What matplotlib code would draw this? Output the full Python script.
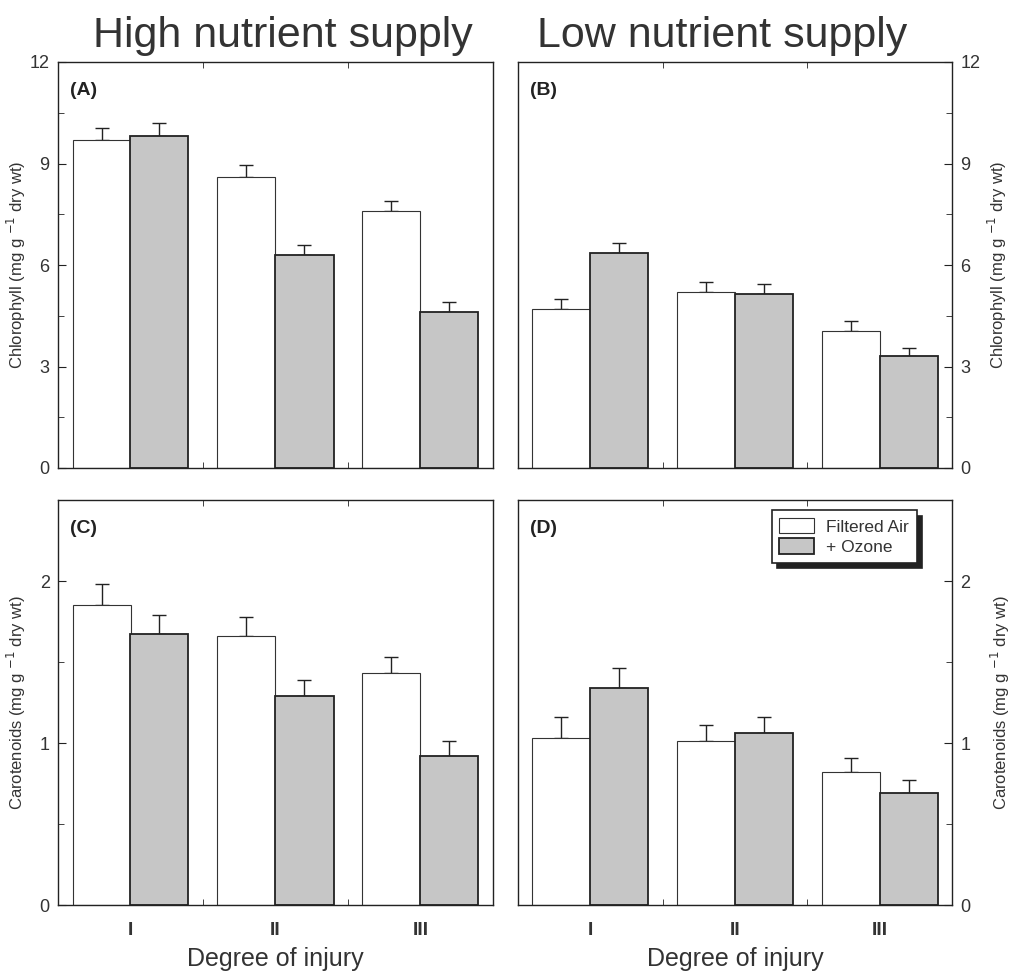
import matplotlib.pyplot as plt
import numpy as np
from matplotlib.ticker import MultipleLocator

plt.rcParams['font.family'] = ['Liberation Sans', 'DejaVu Sans']

groups = ['I', 'II', 'III']

# chlorophyll (mg g-1 dry wt)
chl_high_fa = [9.7, 8.6, 7.6]
chl_high_fa_err = [0.35, 0.35, 0.3]
chl_high_oz = [9.8, 6.3, 4.6]
chl_high_oz_err = [0.4, 0.3, 0.3]
chl_low_fa = [4.7, 5.2, 4.05]
chl_low_fa_err = [0.3, 0.3, 0.3]
chl_low_oz = [6.35, 5.15, 3.3]
chl_low_oz_err = [0.3, 0.3, 0.25]

# carotenoids (mg g-1 dry wt)
car_high_fa = [1.85, 1.66, 1.43]
car_high_fa_err = [0.13, 0.12, 0.1]
car_high_oz = [1.67, 1.29, 0.92]
car_high_oz_err = [0.12, 0.1, 0.09]
car_low_fa = [1.03, 1.01, 0.82]
car_low_fa_err = [0.13, 0.1, 0.09]
car_low_oz = [1.34, 1.06, 0.69]
car_low_oz_err = [0.12, 0.1, 0.08]

GREY = '#c6c6c6'
TXT = '#333333'
INK = '#222222'


def draw_panel(ax, fa, fa_err, oz, oz_err, ylim, major, minor, letter, right=False):
    x = np.arange(1, len(groups) + 1)
    w = 0.4
    ax.bar(x - w / 2, fa, w, color='white', edgecolor='#333333', linewidth=0.8, zorder=2)
    ax.bar(x + w / 2, oz, w, color=GREY, edgecolor=INK, linewidth=1.3, zorder=2)
    ax.errorbar(x - w / 2, fa, yerr=[np.zeros(3), fa_err], fmt='none', ecolor=INK,
                elinewidth=1, capsize=5, capthick=1, zorder=1)
    ax.errorbar(x + w / 2, oz, yerr=[np.zeros(3), oz_err], fmt='none', ecolor=INK,
                elinewidth=1, capsize=5, capthick=1, zorder=1)
    ax.set_xlim(0.5, 3.5)
    ax.set_ylim(*ylim)
    ax.yaxis.set_major_locator(MultipleLocator(major))
    ax.yaxis.set_minor_locator(MultipleLocator(minor))
    ax.set_xticks(x)
    ax.set_xticks([1.5, 2.5], minor=True)
    ax.tick_params(axis='both', which='both', direction='in', colors=INK,
                   labelcolor=TXT, labelsize=13)
    ax.tick_params(axis='y', which='major', length=6, pad=6)
    ax.tick_params(axis='y', which='minor', length=4)
    ax.tick_params(axis='x', which='major', length=0, pad=12)
    ax.tick_params(axis='x', which='minor', length=4, top=True)
    for s in ax.spines.values():
        s.set_linewidth(1.0)
        s.set_color(INK)
    if right:
        ax.yaxis.tick_right()
        ax.yaxis.set_label_position('right')
        ax.yaxis.set_ticks_position('right')
    ax.text(0.028, 0.95, letter, transform=ax.transAxes, fontsize=14, fontweight='bold',
            va='top', ha='left', color=INK)


fig = plt.figure(figsize=(10.12, 9.74), dpi=100)
W, H = 1012, 974
def box(x0, y0, x1, y1):
    return [x0 / W, 1 - y1 / H, (x1 - x0) / W, (y1 - y0) / H]

axA = fig.add_axes(box(58, 62, 493, 468))
axB = fig.add_axes(box(518, 62, 952, 468))
axC = fig.add_axes(box(58, 500, 493, 905))
axD = fig.add_axes(box(518, 500, 952, 905))

draw_panel(axA, chl_high_fa, chl_high_fa_err, chl_high_oz, chl_high_oz_err, (0, 12), 3, 1.5, '(A)')
draw_panel(axB, chl_low_fa, chl_low_fa_err, chl_low_oz, chl_low_oz_err, (0, 12), 3, 1.5, '(B)', right=True)
draw_panel(axC, car_high_fa, car_high_fa_err, car_high_oz, car_high_oz_err, (0, 2.5), 1, 0.5, '(C)')
draw_panel(axD, car_low_fa, car_low_fa_err, car_low_oz, car_low_oz_err, (0, 2.5), 1, 0.5, '(D)', right=True)

for ax in (axA, axB):
    ax.set_xticklabels([])
    ax.set_ylabel('Chlorophyll (mg g $^{-1}$ dry wt)', fontsize=12, color=TXT)
for ax in (axC, axD):
    ax.set_xticklabels(groups, fontsize=14, fontweight='bold')
    ax.set_ylabel('Carotenoids (mg g $^{-1}$ dry wt)', fontsize=12, color=TXT)
    ax.set_xlabel('Degree of injury', fontsize=18, color=TXT, labelpad=6)
axA.yaxis.set_label_coords(-0.068, 0.5)
axC.yaxis.set_label_coords(-0.070, 0.5)
axB.yaxis.set_label_coords(1.078, 0.5)
axD.yaxis.set_label_coords(1.086, 0.5)

fig.text(283 / W, 1 - 47 / H, 'High nutrient supply', fontsize=31, color=TXT,
         ha='center', va='baseline')
fig.text(722 / W, 1 - 47 / H, 'Low nutrient supply', fontsize=31, color=TXT,
         ha='center', va='baseline')

leg = axD.legend(['Filtered Air', '+ Ozone'], loc='upper right', fontsize=12.5,
                 frameon=True, fancybox=False,
                 shadow={'ox': 4, 'oy': -4, 'color': INK, 'alpha': 1.0},
                 handlelength=2.0, handleheight=1.0, borderpad=0.45, labelspacing=0.2,
                 handletextpad=0.7, borderaxespad=0, bbox_to_anchor=(0.919, 0.975))
leg.get_frame().set_edgecolor(INK)
leg.get_frame().set_linewidth(1.2)
for t in leg.get_texts():
    t.set_color(TXT)

fig.savefig('out.png', dpi=100)
